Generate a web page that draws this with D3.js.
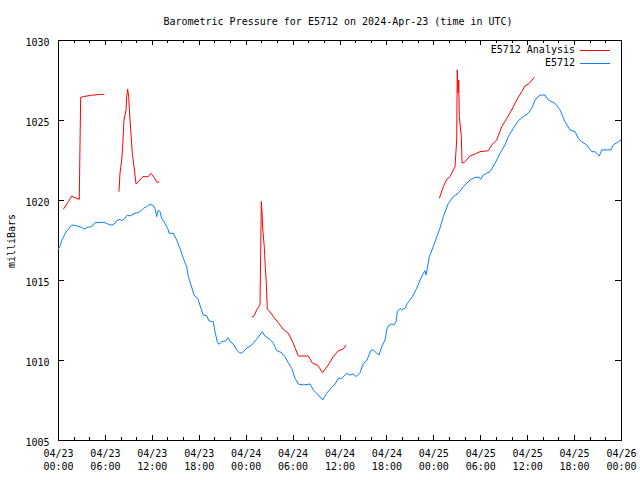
<!DOCTYPE html>
<html><head><meta charset="utf-8">
<script src="https://cdn.jsdelivr.net/npm/d3@7"></script>
<style>
body{margin:0;background:#fff;}
svg{display:block;}
text{font-family:"DejaVu Sans Mono","Liberation Mono",monospace;font-size:10px;fill:#000;}
</style></head>
<body><svg id="c" width="640" height="480"></svg>
<script>
// ---- data (hours after 2024-04-23 00:00 UTC, pressure in mb) ----
const titleText = "Barometric Pressure for E5712 on 2024-Apr-23 (time in UTC)";
const yLabel = "milliBars";
const seriesNames = ["E5712 Analysis", "E5712"];
const yTicks = [1005, 1010, 1015, 1020, 1025, 1030];
const xTickHours = [0, 6, 12, 18, 24, 30, 36, 42, 48, 54, 60, 66, 72];

const blueHours = [0,0.26,0.51,1.02,1.32,1.75,2.39,3.03,3.45,3.67,
4.31,4.73,5.79,6.23,6.65,7.07,7.51,7.93,8.15,8.57,
8.86,9.21,9.85,10.27,10.49,10.91,11.34,11.77,12.11,12.41,
12.62,12.83,13.04,13.26,13.68,14.03,14.2,14.75,15.18,15.6,
16.02,16.46,16.66,17.01,17.43,17.87,18.28,18.58,19.01,19.31,
19.86,20.08,20.37,20.59,20.94,21.45,21.78,22.04,22.42,22.85,
23.28,23.7,24.13,24.77,25.41,26.13,26.47,27.11,27.54,27.97,
28.61,29.03,29.45,29.89,30.31,30.73,31.37,32.23,32.65,33.29,
33.85,34.36,34.79,35.43,35.85,36.28,36.92,37.34,37.77,38.11,
38.62,39.05,39.48,39.99,40.32,40.76,41.05,41.4,41.82,42.04,
42.24,42.68,42.97,43.23,43.39,43.74,43.96,44.38,44.67,45.02,
45.44,45.87,46.3,46.72,46.94,47.07,47.23,47.49,47.58,48.22,
48.85,49.28,49.92,50.56,51.19,51.83,52.69,53.33,53.88,54.06,
54.39,55.25,55.89,56.53,57.17,57.59,58.23,58.87,59.51,60.15,
60.58,61.0,61.64,62.28,62.7,63.56,64.2,64.84,65.48,66.12,
66.54,66.98,67.62,68.26,68.68,69.23,69.53,70.72,71.01,71.65,
72];
const bluePressure = [1016.88,1017.13,1017.5,1018.0,1018.17,1018.44,1018.38,1018.29,1018.17,1018.29,
1018.33,1018.58,1018.61,1018.54,1018.44,1018.44,1018.71,1018.79,1018.71,1018.86,
1019.06,1019.0,1019.17,1019.21,1019.27,1019.48,1019.58,1019.73,1019.69,1019.48,
1018.96,1019.38,1019.27,1018.86,1018.54,1018.23,1017.92,1017.92,1017.5,1016.98,
1016.36,1015.83,1015.21,1014.69,1014.02,1013.86,1013.23,1012.81,1012.77,1012.44,
1012.39,1011.77,1011.14,1010.98,1011.14,1011.19,1011.39,1011.14,1011.0,1010.63,
1010.42,1010.52,1010.73,1010.94,1011.29,1011.77,1011.5,1011.29,1011.04,1010.58,
1010.46,1010.21,1009.83,1009.48,1008.86,1008.5,1008.44,1008.5,1008.13,1007.81,
1007.5,1007.92,1008.17,1008.5,1008.86,1008.86,1009.17,1009.06,1009.13,1008.96,
1009.21,1009.79,1009.96,1010.58,1010.63,1010.42,1010.31,1010.83,1011.25,1011.88,
1012.13,1012.25,1012.19,1012.39,1013.02,1013.23,1013.13,1013.23,1013.54,1013.75,
1014.06,1014.48,1015.0,1015.42,1015.58,1015.31,1015.73,1016.46,1016.56,1017.39,
1018.25,1018.96,1019.79,1020.21,1020.42,1020.83,1021.25,1021.42,1021.42,1021.29,
1021.56,1021.77,1022.29,1022.92,1023.44,1023.96,1024.48,1024.96,1025.21,1025.42,
1025.73,1026.25,1026.56,1026.56,1026.25,1026.04,1025.63,1024.89,1024.38,1024.27,
1023.86,1023.64,1023.44,1023.02,1023.02,1022.75,1023.13,1023.13,1023.44,1023.64,
1023.75];

// null marks a gap between analysis segments
const redHours = [0.68,1.32,1.75,2.17,2.72,2.8,2.9,3.24,4.18,5.28,5.92, null,
7.8,7.93,8.15,8.27,8.44,8.7,8.79,8.91,9.04,9.12,9.3,9.5,9.72,9.98,10.27,10.83,11.55,11.89,12.28,12.62,12.96, null,
24.77,25.07,25.41,25.83,25.92,26.0,26.09,26.18,26.38,26.51,26.64,26.77,27.11,27.54,28.17,28.81,29.45,30.09,30.73,32.01,32.57,33.16,33.85,34.57,35.2,35.85,36.49,36.83, null,
48.77,49.28,49.71,50.13,50.77,50.99,51.06,51.16,51.25,51.32,51.58,51.67,51.92,52.69,53.55,53.97,55.03,55.47,56.1,56.75,57.39,58.02,58.66,59.3,59.72,60.27,60.92];
const redPressure = [1019.42,1019.89,1020.25,1020.14,1020.04,1023.0,1026.42,1026.46,1026.54,1026.6,1026.6, null,
1020.52,1021.69,1022.5,1023.33,1025.0,1025.63,1026.46,1026.92,1026.46,1025.73,1024.38,1022.92,1022.08,1021.0,1021.14,1021.46,1021.46,1021.67,1021.42,1021.14,1021.1, null,
1012.67,1012.75,1013.13,1013.44,1016.67,1019.9,1019.27,1018.23,1017.08,1015.83,1014.79,1013.17,1013.02,1012.71,1012.33,1011.92,1011.67,1011.04,1010.25,1010.25,1009.79,1009.69,1009.21,1009.69,1010.21,1010.58,1010.69,1010.94, null,
1020.11,1020.83,1021.29,1021.46,1022.08,1023.75,1028.13,1026.69,1027.5,1025.21,1023.96,1022.33,1022.33,1022.75,1022.92,1023.02,1023.08,1023.44,1023.75,1024.58,1025.1,1025.63,1026.25,1026.77,1027.13,1027.29,1027.67];

const colors = ["#ff0000", "#0a80ff"];

// ---- layout ----
const L = 58, R = 621, T = 40, B = 440;
const base = Date.UTC(2024, 3, 23, 0, 0, 0);
const toDate = h => new Date(base + h * 3600000);

const x = d3.scaleUtc().domain([toDate(0), toDate(72)]).range([L, R]);
const y = d3.scaleLinear().domain([1005, 1030]).range([B, T]);

const svg = d3.select("#c");

// axes
const majors = xTickHours.map(toDate);
const minors = d3.range(0, 73, 2).filter(h => h % 6 !== 0).map(toDate);
const fmtDate = d3.utcFormat("%m/%d"), fmtTime = d3.utcFormat("%H:%M");

function styleAxis(g){
  g.select(".domain").remove();
  g.selectAll("line").attr("stroke","#000").attr("shape-rendering","crispEdges");
}

const xb = svg.append("g").attr("transform",`translate(0,${B})`)
  .call(d3.axisBottom(x).tickValues(majors).tickSize(-5).tickFormat(""));
styleAxis(xb);
xb.selectAll(".tick").append("text")
  .attr("text-anchor","middle").attr("fill","#000")
  .each(function(d){
    const t = d3.select(this);
    t.append("tspan").attr("x",0).attr("y",17).text(fmtDate(d));
    t.append("tspan").attr("x",0).attr("y",29.5).text(fmtTime(d));
  });
const xbm = svg.append("g").attr("transform",`translate(0,${B})`)
  .call(d3.axisBottom(x).tickValues(minors).tickSize(-3).tickFormat(""));
styleAxis(xbm);
const xt = svg.append("g").attr("transform",`translate(0,${T})`)
  .call(d3.axisTop(x).tickValues(majors).tickSize(-5).tickFormat(""));
styleAxis(xt);
const xtm = svg.append("g").attr("transform",`translate(0,${T})`)
  .call(d3.axisTop(x).tickValues(minors).tickSize(-3).tickFormat(""));
styleAxis(xtm);

const yl = svg.append("g").attr("transform",`translate(${L},0)`)
  .call(d3.axisLeft(y).tickValues(yTicks).tickSize(-6).tickFormat(d3.format("d")));
styleAxis(yl);
yl.selectAll("text").attr("fill","#000")
  .style("font-family","\"DejaVu Sans Mono\",monospace").style("font-size","10px")
  .attr("x",-8.5).attr("dy",null).attr("y",5);
const yr = svg.append("g").attr("transform",`translate(${R},0)`)
  .call(d3.axisRight(y).tickValues(yTicks).tickSize(-6).tickFormat(""));
styleAxis(yr);

// border
svg.append("rect").attr("x",L+0.5).attr("y",T+0.5).attr("width",R-L).attr("height",B-T)
  .attr("fill","none").attr("stroke","#000").attr("shape-rendering","crispEdges");

// lines
const line = d3.line().defined(d => d.p !== null).x(d => x(toDate(d.h))).y(d => y(d.p));
const redData = redHours.map((h,i) => ({h: h, p: redPressure[i]}));
const blueData = blueHours.map((h,i) => ({h: h, p: bluePressure[i]}));

svg.append("path").datum(blueData).attr("d",line)
  .attr("fill","none").attr("stroke",colors[1]).attr("stroke-width",1);
svg.append("path").datum(redData).attr("d",line)
  .attr("fill","none").attr("stroke",colors[0]).attr("stroke-width",1);

// title & labels
svg.append("text").attr("x",338).attr("y",24.5).attr("text-anchor","middle").text(titleText);
svg.append("text").attr("transform","translate(15,241) rotate(-90)").attr("text-anchor","middle").text(yLabel);

// legend
const lg = svg.append("g");
seriesNames.forEach((n,i) => {
  const yy = 52.5 + i*13;
  lg.append("text").attr("x",575).attr("y",yy).attr("text-anchor","end").text(n);
  lg.append("line").attr("x1",580).attr("x2",610).attr("y1",yy-2.5).attr("y2",yy-2.5)
    .attr("stroke",colors[i]).attr("stroke-width",1).attr("shape-rendering","crispEdges");
});
</script></body></html>
